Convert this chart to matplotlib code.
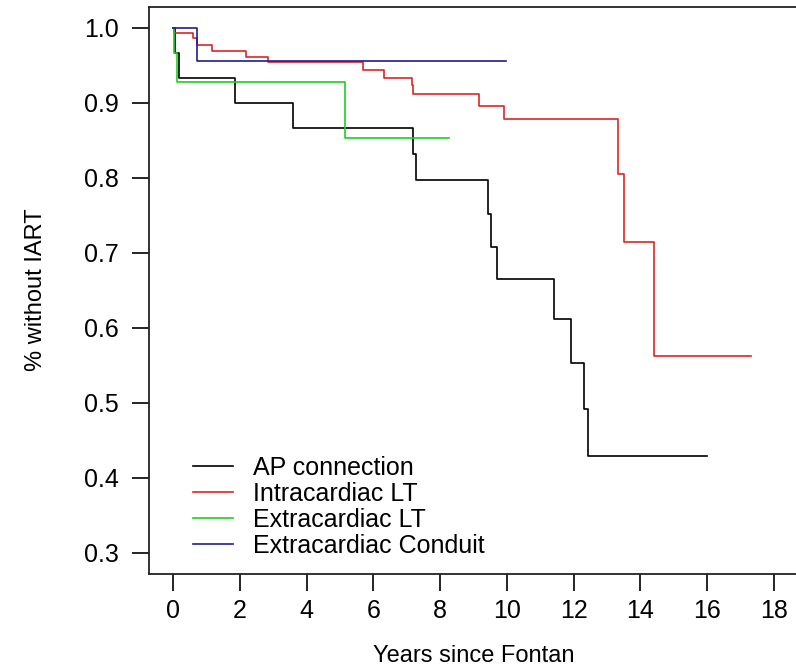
import matplotlib
matplotlib.use("Agg")
import matplotlib.pyplot as plt

plt.rcParams['font.family'] = ['Liberation Sans', 'DejaVu Sans']

# Kaplan-Meier step data (years, fraction without IART)
ap_years = [0, 0.05, 0.17, 1.86, 3.58, 7.20, 7.28, 9.44, 9.51, 9.69, 11.41, 11.93, 12.31, 12.42, 16.0]
ap_surv = [1.0, 0.966, 0.933, 0.900, 0.866, 0.831, 0.797, 0.752, 0.707, 0.665, 0.611, 0.553, 0.492, 0.429, 0.429]

ilt_years = [0, 0.03, 0.61, 0.71, 1.18, 2.19, 2.85, 5.70, 6.33, 7.15, 7.18, 9.15, 9.90, 13.34, 13.51, 14.42, 17.30]
ilt_surv = [1.0, 0.993, 0.986, 0.977, 0.969, 0.961, 0.954, 0.944, 0.933, 0.923, 0.911, 0.895, 0.878, 0.805, 0.714, 0.562, 0.562]

elt_years = [0, 0.03, 0.11, 5.15, 8.27]
elt_surv = [1.0, 0.966, 0.928, 0.853, 0.853]

ecc_years = [0, 0.71, 9.96]
ecc_surv = [1.0, 0.955, 0.955]

labels = ['AP connection', 'Intracardiac LT', 'Extracardiac LT', 'Extracardiac Conduit']
colors = ['#000000', '#dc2626', '#22cc22', '#1c1c96']

x_ticks = list(range(0, 19, 2))
y_ticks = [0.3, 0.4, 0.5, 0.6, 0.7, 0.8, 0.9, 1.0]

fig = plt.figure(figsize=(7.96, 6.70), dpi=100)
ax = fig.add_axes([149/796, 96.5/670, 649/796, 567/670])

series = [(ap_years, ap_surv), (ilt_years, ilt_surv), (elt_years, elt_surv), (ecc_years, ecc_surv)]
for (t, s), lab, col in zip(series, labels, colors):
    ax.step(t, s, where='post', color=col, lw=1.2, label=lab)

ax.set_xlim(-0.72, 18.72)
ax.set_ylim(0.272, 1.028)
ax.set_xticks(x_ticks)
ax.set_xticklabels([str(v) for v in x_ticks])
ax.set_yticks(y_ticks)
ax.set_yticklabels([f'{v:.1f}' for v in y_ticks])
ax.tick_params(axis='both', labelsize=18, length=12, width=1.2, direction='out')
ax.tick_params(axis='x', pad=6)
ax.tick_params(axis='y', pad=10)
for sp in ax.spines.values():
    sp.set_linewidth(1.3)
    sp.set_color('#222222')

ax.set_xlabel('Years since Fontan', fontsize=17, labelpad=16)
ax.set_ylabel('% without IART', fontsize=17)
ax.yaxis.set_label_coords(-0.157, 0.5)

ax.legend(loc='lower left', bbox_to_anchor=(0.068, 0.027), frameon=False, fontsize=18,
          handlelength=1.6, handletextpad=0.8, labelspacing=0.08,
          borderaxespad=0, borderpad=0)

fig.savefig('out.png', dpi=100)
